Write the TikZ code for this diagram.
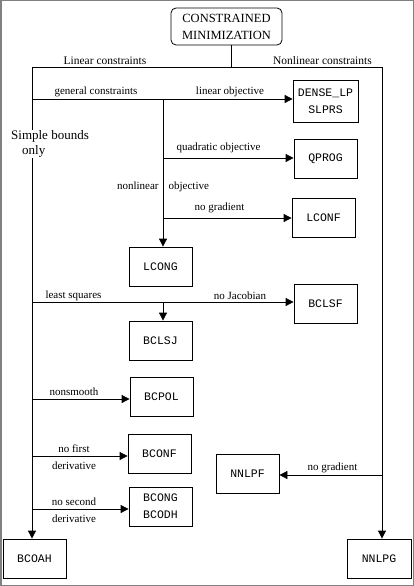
\documentclass[tikz,border=0pt]{standalone}
\usepackage{fontspec}
\setmainfont{Liberation Serif}
\setmonofont{Liberation Mono}
\usetikzlibrary{arrows.meta}

\begin{document}
\begin{tikzpicture}[x=1pt,y=-1pt,line width=0.8pt,
    box/.style={draw,minimum width=63pt,minimum height=39pt,align=center,
      font=\fontsize{11.5}{17}\ttfamily,inner sep=1pt},
    lbl/.style={font=\fontsize{11}{17}\selectfont,inner sep=1pt,align=center},
    arr/.style={-{Triangle[length=8pt,width=8pt]}}]
  \useasboundingbox (0,0) rectangle (414,586);
  \draw[gray,line width=1.5pt] (0.75,0.75) rectangle (413.25,585.25);

  % boxes
  \node[box,rounded corners=5pt,minimum width=111pt,minimum height=37pt,
    font=\fontsize{12.5}{17}\selectfont] (cm) at (226.5,26.5) {CONSTRAINED\\MINIMIZATION};
  \node[box,minimum width=65pt,minimum height=42pt] (dense) at (325.5,101) {DENSE\_LP\\SLPRS};
  \node[box] (qprog) at (325.5,158.5) {QPROG};
  \node[box] (lconf) at (323.5,217.5) {LCONF};
  \node[box] (lcong) at (160.5,266.5) {LCONG};
  \node[box] (bclsf) at (325.5,304) {BCLSF};
  \node[box] (bclsj) at (160.5,340.5) {BCLSJ};
  \node[box] (bcpol) at (161.5,396.5) {BCPOL};
  \node[box] (bconf) at (159.5,453.5) {BCONF};
  \node[box] (bcong) at (160.5,506.5) {BCONG\\BCODH};
  \node[box] (bcoah) at (34.5,558.5) {BCOAH};
  \node[box] (nnlpf) at (247.5,473.5) {NNLPF};
  \node[box,minimum width=64pt] (nnlpg) at (379,558.5) {NNLPG};

  % branch points
  \coordinate (top) at (231,67);
  \coordinate (lin) at (32,67);
  \coordinate (nonlin) at (382,67);
  \coordinate (gen) at (32,99);
  \coordinate (split) at (163,99);
  \coordinate (quad) at (163,158);
  \coordinate (nograd) at (163,218);
  \coordinate (lsq) at (32,302);
  \coordinate (jac) at (163,302);
  \coordinate (nons) at (32,399);
  \coordinate (nofirst) at (32,456);
  \coordinate (nosec) at (32,509);
  \coordinate (nlgrad) at (382,475);

  % connectors
  \draw (top |- cm.south) -- (top);
  \draw (lin) -- (nonlin);
  \draw[arr] (lin) -- (lin |- bcoah.north);
  \draw[arr] (nonlin) -- (nonlin |- nnlpg.north);
  \draw[arr] (gen) -- (gen -| dense.west);
  \draw[arr] (split) -- (split |- lcong.north);
  \draw[arr] (quad) -- (quad -| qprog.west);
  \draw[arr] (nograd) -- (nograd -| lconf.west);
  \draw[arr] (lsq) -- (lsq -| bclsf.west);
  \draw[arr] (jac) -- (jac |- bclsj.north);
  \draw[arr] (nons) -- (nons -| bcpol.west);
  \draw[arr] (nofirst) -- (nofirst -| bconf.west);
  \draw[arr] (nosec) -- (nosec -| bcong.west);
  \draw[arr] (nlgrad) -- (nlgrad -| nnlpf.east);

  % labels
  \node[lbl,font=\fontsize{11.5}{17}\selectfont] (linlbl) at (105,61) {Linear constraints};
  \node[lbl,font=\fontsize{11.5}{17}\selectfont] (nonlinlbl) at (322.5,61) {Nonlinear constraints};
  \node[lbl,fill=white,align=left,font=\fontsize{13}{15}\selectfont] (simple) at (50,144)
    {Simple bounds\\\hspace*{11pt}only};
  \node[lbl] (genlbl) at (96,92) {general constraints};
  \node[lbl] (linobj) at (230,92) {linear objective};
  \node[lbl] (quadobj) at (218.5,148) {quadratic objective};
  \node[lbl] (nonlinobj) at (163,187) {nonlinear\hspace{10pt}objective};
  \node[lbl] (nogradlbl) at (219.5,208) {no gradient};
  \node[lbl] (lsqlbl) at (73.5,296) {least squares};
  \node[lbl] (jaclbl) at (240,296) {no Jacobian};
  \node[lbl] (nonslbl) at (74,392) {nonsmooth};
  \node[lbl] (firstlbl) at (74,457.5) {no first\\derivative};
  \node[lbl] (seclbl) at (74,510) {no second\\derivative};
  \node[lbl] (nlgradlbl) at (332.5,468) {no gradient};
\end{tikzpicture}
\end{document}
